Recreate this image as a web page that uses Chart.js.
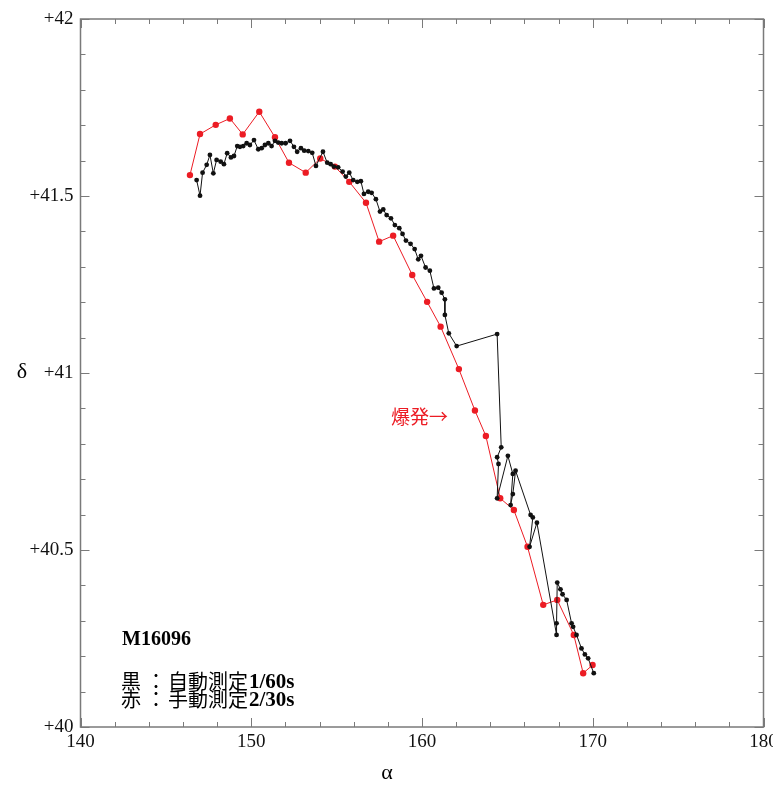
<!DOCTYPE html>
<html>
<head>
    <meta charset="utf-8" />
    <title>M16096</title>
    <style>
        body { margin: 0; background: #fff; }
        #wrap { width: 773px; height: 787px; position: relative; }
    </style>
</head>
<body>
    <div id="wrap">
        <canvas id="chart"></canvas>
    </div>

    <script src="https://cdn.jsdelivr.net/npm/chart.js"></script>
    <script type="text/javascript">

        // 赤：手動測定 2/30s
        var redAlpha = [146.41, 147.00, 147.92, 148.75, 149.50, 150.47, 151.39, 152.21, 153.19, 154.04,
            154.90, 155.74, 156.72, 157.49, 158.31, 159.43, 160.30, 161.09, 162.16, 163.10,
            163.74, 164.58, 165.38, 166.18, 167.10, 167.92, 168.89, 169.44, 169.99];
        var redDelta = [41.559, 41.675, 41.701, 41.719, 41.674, 41.738, 41.666, 41.594, 41.566, 41.606,
            41.583, 41.540, 41.481, 41.371, 41.388, 41.277, 41.201, 41.131, 41.011, 40.894,
            40.822, 40.646, 40.613, 40.509, 40.345, 40.359, 40.260, 40.152, 40.175];

        // 黒：自動測定 1/60s
        var blackAlpha = [146.80, 147.00, 147.15, 147.39, 147.58, 147.78, 147.97, 148.21, 148.40, 148.59,
            148.81, 148.99, 149.18, 149.34, 149.53, 149.73, 149.92, 150.16, 150.41, 150.61,
            150.80, 151.00, 151.19, 151.39, 151.58, 151.78, 152.01, 152.27, 152.50, 152.69,
            152.91, 153.10, 153.34, 153.57, 153.79, 154.20, 154.45, 154.65, 154.84, 155.09,
            155.35, 155.54, 155.74, 155.97, 156.21, 156.42, 156.60, 156.85, 157.05, 157.30,
            157.54, 157.73, 157.93, 158.18, 158.41, 158.67, 158.86, 159.06, 159.33, 159.57,
            159.78, 159.94, 160.21, 160.46, 160.70, 160.95, 161.15, 161.34, 161.34, 161.57,
            162.03, 164.40, 164.64, 164.40, 164.48, 164.40, 165.03, 165.32, 165.19, 165.32,
            165.48, 166.36, 166.49, 166.30, 166.73, 167.88, 167.88, 167.92, 168.11, 168.23,
            168.47, 168.76, 168.85, 169.05, 169.34, 169.54, 169.73, 170.06];
        var blackDelta = [41.545, 41.501, 41.566, 41.588, 41.616, 41.564, 41.602, 41.597, 41.590, 41.621,
            41.609, 41.613, 41.641, 41.639, 41.641, 41.649, 41.644, 41.658, 41.632, 41.635,
            41.644, 41.649, 41.641, 41.656, 41.651, 41.649, 41.649, 41.656, 41.639, 41.625,
            41.635, 41.628, 41.627, 41.622, 41.585, 41.625, 41.594, 41.590, 41.583, 41.581,
            41.569, 41.555, 41.566, 41.545, 41.540, 41.542, 41.506, 41.512, 41.509, 41.491,
            41.456, 41.462, 41.446, 41.437, 41.418, 41.409, 41.393, 41.374, 41.365, 41.350,
            41.321, 41.331, 41.298, 41.289, 41.239, 41.241, 41.227, 41.208, 41.164, 41.112,
            41.076, 41.110, 40.790, 40.762, 40.743, 40.646, 40.766, 40.715, 40.627, 40.658,
            40.724, 40.599, 40.592, 40.509, 40.577, 40.260, 40.293, 40.408, 40.389, 40.375,
            40.359, 40.293, 40.283, 40.260, 40.222, 40.205, 40.194, 40.152];

        var xTickValues = [140, 150, 160, 170, 180];
        var yTickValues = [40, 40.5, 41, 41.5, 42];

        var serif = "'Liberation Serif', 'Times New Roman', serif";
        var cjk = "'Noto Sans CJK JP', sans-serif";
        var rojo = 'rgb(236, 28, 36)';

        function toPoints(xs, ys) {
            var pts = [];
            for (var i = 0; i < xs.length; i++) {
                pts.push({ x: xs[i], y: ys[i] });
            }
            return pts;
        }

        // marco, marcas hacia dentro y textos
        var marco = {
            id: 'marco',
            afterDraw: function (chart) {
                var ctx = chart.ctx;
                var a = chart.chartArea;
                var sx = chart.scales.x;
                var sy = chart.scales.y;
                ctx.save();
                ctx.strokeStyle = '#7a7a7a';
                ctx.lineWidth = 1.5;
                ctx.strokeRect(a.left, a.top, a.right - a.left, a.bottom - a.top);

                ctx.lineWidth = 1;
                ctx.beginPath();
                for (var v = 140; v <= 180; v += 2) {
                    var px = Math.round(sx.getPixelForValue(v)) + 0.5;
                    var len = (v % 10 === 0) ? 9 : 5;
                    ctx.moveTo(px, a.bottom); ctx.lineTo(px, a.bottom - len);
                    ctx.moveTo(px, a.top); ctx.lineTo(px, a.top + len);
                }
                for (var k = 0; k <= 20; k++) {
                    var val = 40 + k * 0.1;
                    var py = Math.round(sy.getPixelForValue(val)) + 0.5;
                    var l2 = (k % 5 === 0) ? 9 : 5;
                    ctx.moveTo(a.left, py); ctx.lineTo(a.left + l2, py);
                    ctx.moveTo(a.right, py); ctx.lineTo(a.right - l2, py);
                }
                ctx.stroke();

                // títulos de los ejes
                ctx.fillStyle = '#000';
                ctx.font = '22px ' + serif;
                ctx.textAlign = 'center';
                ctx.textBaseline = 'middle';
                ctx.fillText('δ', 22, 372);
                ctx.fillText('α', 387, 773);

                // 爆発→
                ctx.fillStyle = rojo;
                ctx.textAlign = 'left';
                ctx.textBaseline = 'alphabetic';
                ctx.font = '19px ' + cjk;
                ctx.fillText('爆発→', 391, 424);

                // leyenda
                ctx.fillStyle = '#000';
                ctx.font = 'bold 20px ' + serif;
                ctx.fillText('M16096', 122, 645);

                var filas = [['黒', '自動測定', '1/60s', 688], ['赤', '手動測定', '2/30s', 706]];
                filas.forEach(function (f) {
                    ctx.font = '20px ' + cjk;
                    ctx.fillText(f[0], 121, f[3] + 1);
                    ctx.fillText('：', 146, f[3] + 1);
                    ctx.fillText(f[1], 168, f[3] + 1);
                    var ww = ctx.measureText(f[1]).width;
                    ctx.font = 'bold 21px ' + serif;
                    ctx.fillText(f[2], 168 + ww + 1, f[3]);
                });
                ctx.restore();
            }
        };

        var ctx = document.getElementById('chart').getContext('2d');
        var myChart = new Chart(ctx, {
            type: 'scatter',
            data: {
                datasets: [{
                    label: '黒',
                    data: toPoints(blackAlpha, blackDelta),
                    showLine: true,
                    borderColor: '#111',
                    backgroundColor: '#111',
                    borderWidth: 1,
                    pointRadius: 2.4,
                    pointBorderWidth: 0,
                    tension: 0
                }, {
                    label: '赤',
                    data: toPoints(redAlpha, redDelta),
                    showLine: true,
                    borderColor: rojo,
                    backgroundColor: rojo,
                    borderWidth: 1,
                    pointRadius: 3.2,
                    pointBorderWidth: 0,
                    tension: 0
                }]
            },
            options: {
                responsive: true,
                maintainAspectRatio: false,
                animation: false,
                layout: { padding: { top: 19, right: 9.5, left: 0, bottom: 0 } },
                plugins: {
                    legend: { display: false },
                    tooltip: { enabled: false }
                },
                scales: {
                    x: {
                        type: 'linear',
                        min: 140,
                        max: 180,
                        afterFit: function (s) {
                            s.height = 60;
                            s.paddingLeft = 0;
                            s.paddingRight = 0;
                        },
                        afterBuildTicks: function (s) {
                            s.ticks = xTickValues.map(function (v) { return { value: v }; });
                        },
                        grid: { display: false, drawTicks: false },
                        border: { display: false },
                        ticks: {
                            padding: 4,
                            color: '#111',
                            font: { family: serif, size: 19 },
                            maxRotation: 0
                        }
                    },
                    y: {
                        type: 'linear',
                        min: 40,
                        max: 42,
                        afterFit: function (s) {
                            s.width = 80.5;
                            s.paddingTop = 0;
                            s.paddingBottom = 0;
                        },
                        afterBuildTicks: function (s) {
                            s.ticks = yTickValues.map(function (v) { return { value: v }; });
                        },
                        grid: { display: false, drawTicks: false },
                        border: { display: false },
                        ticks: {
                            padding: 7,
                            color: '#111',
                            font: { family: serif, size: 19 },
                            callback: function (v) { return '+' + v; }
                        }
                    }
                }
            },
            plugins: [marco]
        });
    </script>
</body>
</html>
